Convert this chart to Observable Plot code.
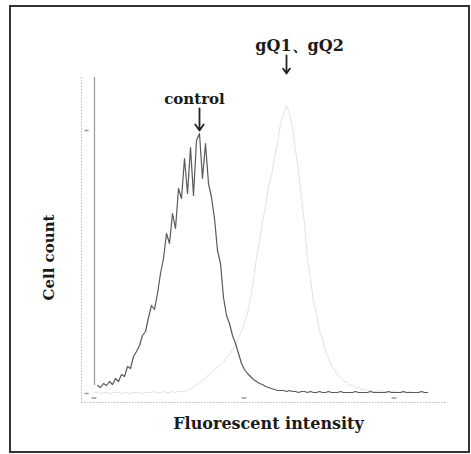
<!DOCTYPE html>
<html>
<head>
<meta charset="utf-8">
<script src="https://cdn.jsdelivr.net/npm/d3@7"></script>
<script src="https://cdn.jsdelivr.net/npm/@observablehq/plot@0.6"></script>
<style>
  html, body { margin: 0; padding: 0; background: #fff; }
  #wrap { position: relative; width: 471px; height: 454px; }
  #box { position: absolute; left: 9px; top: 5px; width: 461px; height: 448px; box-sizing: border-box; border: 2px solid #333; pointer-events: none; }
</style>
</head>
<body>
<div id="wrap"><div id="box"></div></div>
<script>
// Histogram counts per channel (bin index)
const controlCounts = [
  330,
  8, 6, 10, 8, 12, 9, 15, 12, 19, 17, 27, 25,
  37, 42, 48, 58, 62, 76, 88, 84, 100, 120, 135, 160,
  150, 180, 165, 205, 195, 235, 200, 246, 198, 253, 260, 215,
  250, 210, 196, 175, 143, 130, 96, 78, 70, 58, 50, 40,
  30, 24, 20, 17, 14, 12, 10, 9, 7, 6, 5, 4, 3, 3,
  3, 2, 3, 2, 2, 1, 2, 2, 1, 2, 1, 1, 2, 1, 1, 2, 1, 1, 1, 2,
  1, 1, 1, 1, 2, 1, 1, 1, 1, 2, 1, 1, 1, 1, 1, 2, 1, 1, 1, 1,
  2, 1, 1, 1, 1, 1, 2, 1, 1
];
const gqCounts = [
  1, 1, 0, 1, 1, 0, 1, 1, 1, 0, 1, 1, 0, 1, 1, 1, 0, 1, 1, 1, 2, 1, 1, 2, 1, 1, 2, 1, 2, 2,
  2, 3, 5, 6, 9, 10, 13, 15, 19, 20, 24, 26, 29, 31, 36, 38, 44, 48, 56, 62, 72, 80,
  96, 114, 136, 152, 173, 186, 207, 218, 236, 250, 270, 279, 288, 280, 266, 243, 223, 195,
  170, 133, 115, 91, 80, 63, 55, 42, 36, 27, 24, 18, 17, 12, 12, 8, 9, 6, 6, 4, 4, 3, 3,
  2, 2, 3, 2, 2, 1, 2, 2, 1, 2, 1, 1, 2, 1, 1, 1, 2, 1, 1
];
const seriesLabels = ["control", "gQ1、gQ2"];
const xTickValues = [0, 50, 100];
const yTickValues = [0, 263];
const xLabel = "Fluorescent intensity";
const yLabel = "Cell count";

const xDomain = [-13 / 3, 353 / 3];
const yDomain = [-9, 316];
const font = "'DejaVu Serif', 'Liberation Serif', serif";

const ci = d3.maxIndex(controlCounts.slice(1)) + 1;
const gi = d3.maxIndex(gqCounts);
const ctrlNote = [{label: seriesLabels[0], x: ci, peak: controlCounts[ci]}];
const gqNote = [{label: seriesLabels[1], x: gi, peak: gqCounts[gi]}];

function note(data, gap, len, dx, size, ls) {
  return [
    Plot.arrow(data, {
      x1: "x", x2: "x",
      y1: d => d.peak + gap + len, y2: d => d.peak + gap,
      stroke: "#222", strokeWidth: 1.8, headLength: 8, headAngle: 70
    }),
    Plot.text(data, {
      x: "x", y: d => d.peak + gap + len + 5, text: "label",
      dx, lineAnchor: "bottom", fontWeight: "bold",
      fontSize: size, fill: "#1a1a1a", letterSpacing: ls
    })
  ];
}

const chart = Plot.plot({
  width: 471,
  height: 454,
  marginLeft: 81,
  marginRight: 24,
  marginTop: 77,
  marginBottom: 52,
  style: {fontFamily: font, background: "transparent"},
  x: {type: "linear", domain: xDomain, axis: null},
  y: {type: "linear", domain: yDomain, axis: null},
  marks: [
    Plot.ruleX([xDomain[0]], {stroke: "#b8b8b8", strokeDasharray: "1.5,1.5"}),
    Plot.ruleY([yDomain[0]], {stroke: "#b8b8b8", strokeDasharray: "1.5,1.5"}),
    Plot.ruleY(yTickValues, {y: d => d, x1: -3.2, x2: -1.8, stroke: "#999", strokeWidth: 1.5}),
    Plot.ruleY(xTickValues, {y: -4.5, x1: d => d - 0.8, x2: d => d + 0.8, stroke: "#999", strokeWidth: 1.5}),
    Plot.line(gqCounts, {x: (d, i) => i, y: d => d, stroke: "#dedede", strokeWidth: 0.9, clip: true}),
    Plot.ruleX([0], {y1: controlCounts[1], y2: controlCounts[0], stroke: "#9a9a9a", strokeWidth: 1.2, clip: true}),
    Plot.line(controlCounts, {filter: (d, i) => i > 0, x: (d, i) => i, y: d => d, stroke: "#5a5a5a", strokeWidth: 1.2, clip: true}),
    ...note(ctrlNote, 3, 22, -5, 15, 0.8),
    ...note(gqNote, 32, 18, 13, 16, 1.5),
    Plot.text([xLabel], {frameAnchor: "bottom", dx: 4, dy: 21, lineAnchor: "middle",
      fontWeight: "bold", fontSize: 16, fill: "#1a1a1a", letterSpacing: 0.3}),
    Plot.text([yLabel], {x: -15, y: 136, rotate: -90, lineAnchor: "middle",
      fontWeight: "bold", fontSize: 15, fill: "#1a1a1a"})
  ]
});
document.getElementById("wrap").prepend(chart);
</script>
</body>
</html>
